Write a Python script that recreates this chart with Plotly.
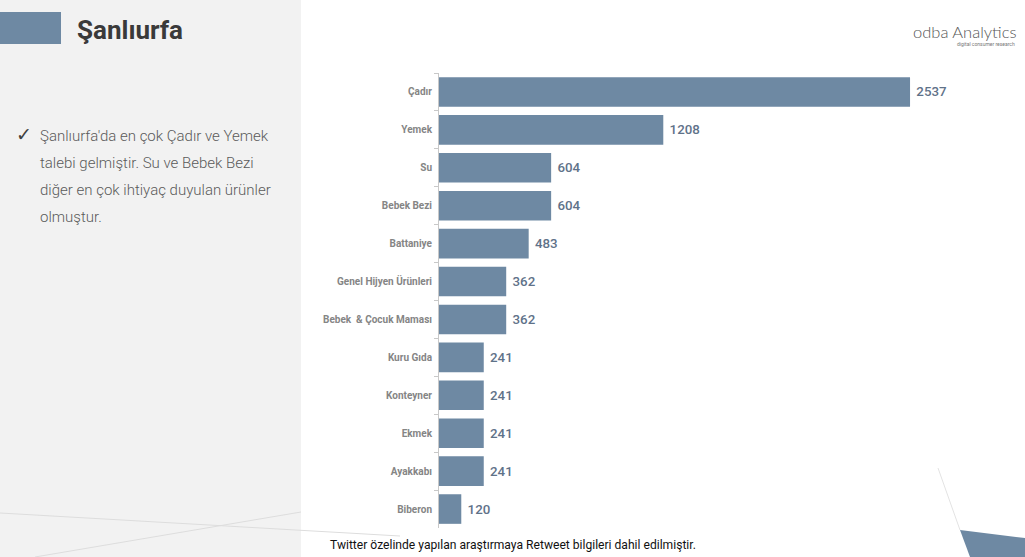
import plotly.graph_objects as go

categories = ["Çadır", "Yemek", "Su", "Bebek Bezi", "Battaniye", "Genel Hijyen Ürünleri",
              "Bebek  & Çocuk Maması", "Kuru Gıda", "Konteyner", "Ekmek", "Ayakkabı", "Biberon"]
values = [2537, 1208, 604, 604, 483, 362, 362, 241, 241, 241, 241, 120]

title_text = "Şanlıurfa"
bullet_lines = ["Şanlıurfa'da en çok Çadır ve Yemek", "talebi gelmiştir. Su ve Bebek Bezi",
                "diğer en çok ihtiyaç duyulan ürünler", "olmuştur."]
footer_text = "Twitter özelinde yapılan araştırmaya Retweet bilgileri dahil edilmiştir."

W, H = 1025, 557
L, R, T, B = 439, 29, 73, 29
PW, PH = W - L - R, H - T - B

def px(x):
    return (x - L) / PW

def py(y):
    return (H - B - y) / PH

BAR = "#6e89a3"

fig = go.Figure(go.Bar(
    x=values, y=categories, orientation="h",
    marker=dict(color=BAR, line=dict(width=0)),
    width=0.78,
    text=["\u00a0" + str(v) for v in values], textposition="outside",
    textfont=dict(family="Roboto", size=13.3, color="#5f7289", weight=500),
    cliponaxis=False, hoverinfo="skip",
))

fig.update_yaxes(
    autorange="reversed", showline=True, linecolor="#c8c8c8", linewidth=1,
    ticks="outside", tickson="boundaries", ticklen=4, tickcolor="#c8c8c8",
    tickfont=dict(family="Roboto", size=10, color="#858585", weight="bold"),
    ticklabelstandoff=4,
    showgrid=False, zeroline=False,
)
fig.update_xaxes(range=[0, 3000], visible=False, showgrid=False, zeroline=False)

shapes = [
    dict(type="rect", xref="paper", yref="paper", x0=px(0), x1=px(301), y0=py(0), y1=py(557),
         fillcolor="#f2f2f2", line=dict(width=0), layer="below"),
    dict(type="rect", xref="paper", yref="paper", x0=px(0), x1=px(61), y0=py(12), y1=py(44),
         fillcolor=BAR, line=dict(width=0), layer="below"),
    dict(type="line", xref="paper", yref="paper", x0=px(0), y0=py(513), x1=px(400), y1=py(536),
         line=dict(color="#dddddd", width=1), layer="below"),
    dict(type="line", xref="paper", yref="paper", x0=px(35), y0=py(557), x1=px(301), y1=py(512),
         line=dict(color="#dddddd", width=1), layer="below"),
    dict(type="line", xref="paper", yref="paper", x0=px(938), y0=py(468), x1=px(960), y1=py(530),
         line=dict(color="#e3e3e3", width=1), layer="below"),
    dict(type="path", xref="paper", yref="paper",
         path=f"M {px(960)} {py(530)} L {px(1025)} {py(538)} L {px(1025)} {py(557)} L {px(970)} {py(557)} Z",
         fillcolor=BAR, line=dict(width=0), layer="below"),
]

annotations = [
    dict(text=f"<b>{title_text}</b>", x=px(75), y=py(30), xref="paper", yref="paper",
         xanchor="left", yanchor="middle", showarrow=False,
         font=dict(family="Roboto", size=26, color="#3a3a3a")),
    dict(text="✓", x=px(14), y=py(134), xref="paper", yref="paper",
         xanchor="left", yanchor="middle", showarrow=False,
         font=dict(family="DejaVu Sans", size=19, color="#404040")),
    dict(text="odba Analytics", x=px(1018), y=py(32), xref="paper", yref="paper",
         xanchor="right", yanchor="middle", showarrow=False,
         font=dict(family="Lato", size=16.5, color="#555555", weight=300)),
    dict(text="digital consumer research", x=px(1017), y=py(44), xref="paper", yref="paper",
         xanchor="right", yanchor="middle", showarrow=False,
         font=dict(family="Roboto", size=5, color="#777777")),
    dict(text=footer_text, x=px(328), y=py(545), xref="paper", yref="paper",
         xanchor="left", yanchor="middle", showarrow=False,
         font=dict(family="Roboto", size=12.1, color="#111111")),
]
for i, line in enumerate(bullet_lines):
    annotations.append(dict(text=line, x=px(38), y=py(136 + 27 * i), xref="paper", yref="paper",
                            xanchor="left", yanchor="middle", showarrow=False,
                            font=dict(family="Roboto", size=15, color="#5a5a5a", weight=300)))

fig.update_layout(
    width=W, height=H, margin=dict(l=L, r=R, t=T, b=B, autoexpand=False),
    paper_bgcolor="#ffffff", plot_bgcolor="rgba(0,0,0,0)",
    showlegend=False, shapes=shapes, annotations=annotations,
    bargap=0.22,
)

fig.write_html("out.html", config={"displayModeBar": False})
